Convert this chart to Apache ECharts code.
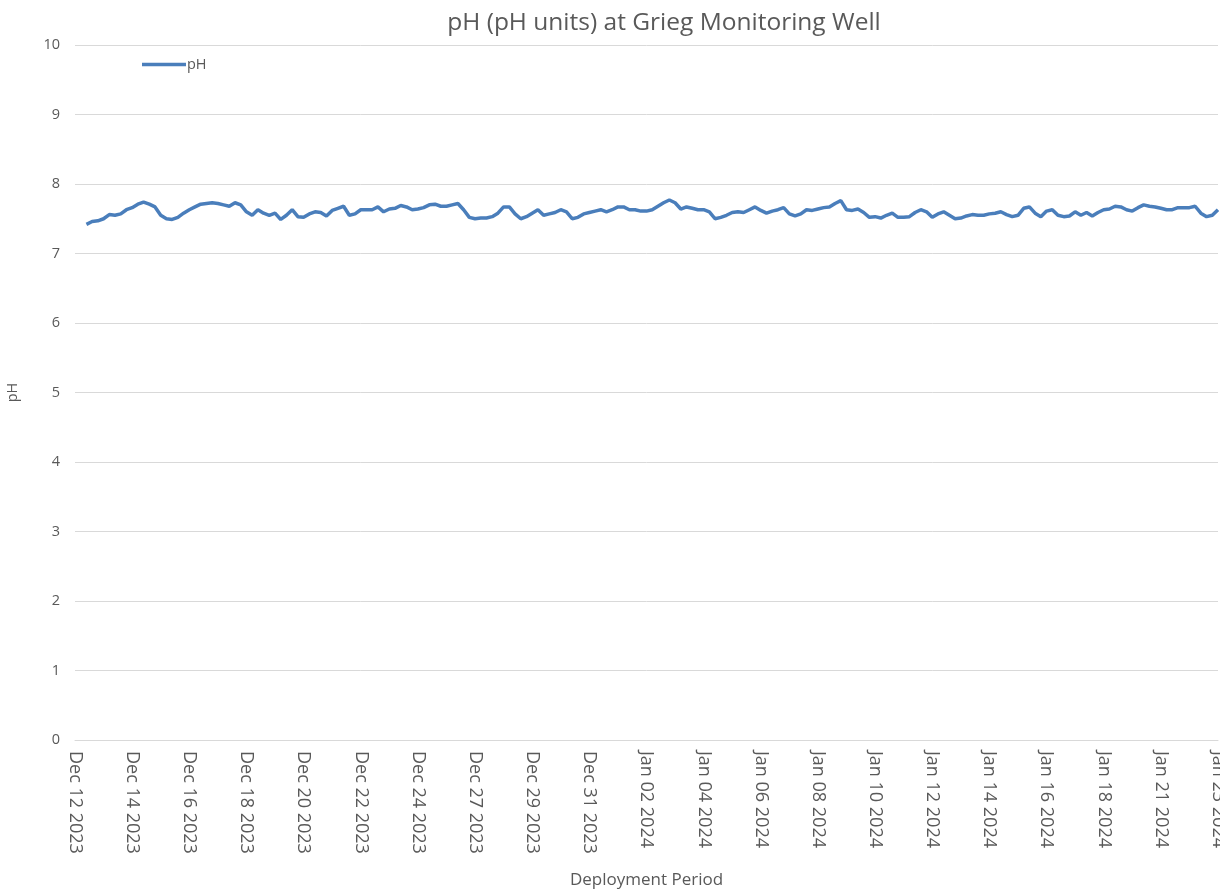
<!DOCTYPE html>
<html>
<head>
<meta charset="utf-8">
<script src="https://cdn.jsdelivr.net/npm/echarts@6/dist/echarts.min.js"></script>
<style>
html,body{margin:0;padding:0;background:#fff;}
#chart{width:1220px;height:892px;}
</style>
</head>
<body>
<div id="chart"></div>
<script>
var tickLabels = ["Dec 12 2023","Dec 14 2023","Dec 16 2023","Dec 18 2023","Dec 20 2023","Dec 22 2023","Dec 24 2023","Dec 27 2023","Dec 29 2023","Dec 31 2023","Jan 02 2024","Jan 04 2024","Jan 06 2024","Jan 08 2024","Jan 10 2024","Jan 12 2024","Jan 14 2024","Jan 16 2024","Jan 18 2024","Jan 21 2024","Jan 23 2024"];
var pointsPerTick = 10;

var phValues = [
null,null,7.42,7.46,7.47,7.50,7.56,7.55,7.57,7.63,
7.66,7.71,7.74,7.71,7.67,7.55,7.50,7.49,7.52,7.58,
7.63,7.67,7.71,7.72,7.73,7.72,7.70,7.68,7.73,7.70,
7.60,7.55,7.63,7.58,7.55,7.58,7.49,7.55,7.63,7.53,
7.52,7.57,7.60,7.59,7.54,7.62,7.65,7.68,7.55,7.57,
7.63,7.63,7.63,7.67,7.60,7.64,7.65,7.69,7.67,7.63,
7.64,7.66,7.70,7.71,7.68,7.68,7.70,7.72,7.63,7.52,
7.50,7.51,7.51,7.53,7.58,7.67,7.67,7.57,7.50,7.53,
7.58,7.63,7.55,7.57,7.59,7.63,7.60,7.50,7.52,7.57,
7.59,7.61,7.63,7.60,7.63,7.67,7.67,7.63,7.63,7.61,
7.61,7.63,7.68,7.73,7.77,7.73,7.64,7.67,7.65,7.63,
7.63,7.60,7.50,7.52,7.55,7.59,7.60,7.59,7.63,7.67,
7.62,7.58,7.61,7.63,7.66,7.57,7.54,7.57,7.63,7.62,
7.64,7.66,7.67,7.72,7.76,7.63,7.62,7.64,7.59,7.52,
7.53,7.51,7.55,7.58,7.52,7.52,7.53,7.59,7.63,7.60,
7.52,7.57,7.60,7.55,7.50,7.51,7.54,7.56,7.55,7.55,
7.57,7.58,7.60,7.56,7.53,7.55,7.65,7.67,7.58,7.53,
7.61,7.63,7.55,7.53,7.54,7.60,7.55,7.59,7.54,7.59,
7.63,7.64,7.68,7.67,7.63,7.61,7.66,7.70,7.68,7.67,
7.65,7.63,7.63,7.66,7.66,7.66,7.68,7.58,7.53,7.55,
7.63
];

var categories = phValues.map(function (v, i) {
  return (i % pointsPerTick === 0) ? tickLabels[i / pointsPerTick] : ('p' + i);
});

var FONT = '"Open Sans", "Noto Sans", sans-serif';
var TXT = '#595959';

var chart = echarts.init(document.getElementById('chart'), null, {renderer: 'canvas'});
chart.setOption({
  animation: false,
  backgroundColor: '#ffffff',
  title: {
    text: 'pH (pH units) at Grieg Monitoring Well',
    left: 659,
    top: 6,
    textAlign: 'center',
    textStyle: {fontFamily: FONT, fontSize: 24.5, fontWeight: 'normal', color: TXT}
  },
  legend: {
    data: ['pH'],
    left: 137,
    top: 52,
    itemWidth: 44,
    itemHeight: 14,
    itemGap: 2,
    icon: 'path://M0,6 L44,6 L44,9.5 L0,9.5 Z',
    textStyle: {fontFamily: FONT, fontSize: 14.5, color: TXT, padding: [0, 0, 0, -4]}
  },
  grid: {left: 75, right: 2, top: 45, bottom: 152, containLabel: false, outerBoundsMode: 'none'},
  xAxis: {
    type: 'category',
    data: categories,
    boundaryGap: false,
    name: 'Deployment Period',
    nameLocation: 'middle',
    nameGap: 132,
    nameMoveOverlap: false,
    nameTextStyle: {fontFamily: FONT, fontSize: 17, color: TXT},
    axisLine: {show: true, lineStyle: {color: '#d9d9d9', width: 1}},
    axisTick: {show: false},
    axisLabel: {
      rotate: -90,
      margin: 11,
      interval: function (idx) { return idx % pointsPerTick === 0; },
      formatter: function (v, idx) { return idx % pointsPerTick === 0 ? v : ''; },
      fontFamily: FONT, fontSize: 18, color: TXT
    },
    splitLine: {show: false}
  },
  yAxis: {
    type: 'value',
    min: 0,
    max: 10,
    interval: 1,
    name: 'pH',
    nameLocation: 'middle',
    nameGap: 55,
    nameRotate: 90,
    nameTextStyle: {fontFamily: FONT, fontSize: 14.5, color: TXT},
    axisLine: {show: false},
    axisTick: {show: false},
    axisLabel: {margin: 15, fontFamily: FONT, fontSize: 14.5, color: TXT},
    splitLine: {show: true, lineStyle: {color: '#d9d9d9', width: 1}}
  },
  series: [{
    name: 'pH',
    type: 'line',
    data: phValues,
    showSymbol: false,
    symbol: 'none',
    connectNulls: false,
    lineStyle: {color: '#4a7ebb', width: 3.5},
    itemStyle: {color: '#4a7ebb'}
  }]
});
</script>
</body>
</html>
